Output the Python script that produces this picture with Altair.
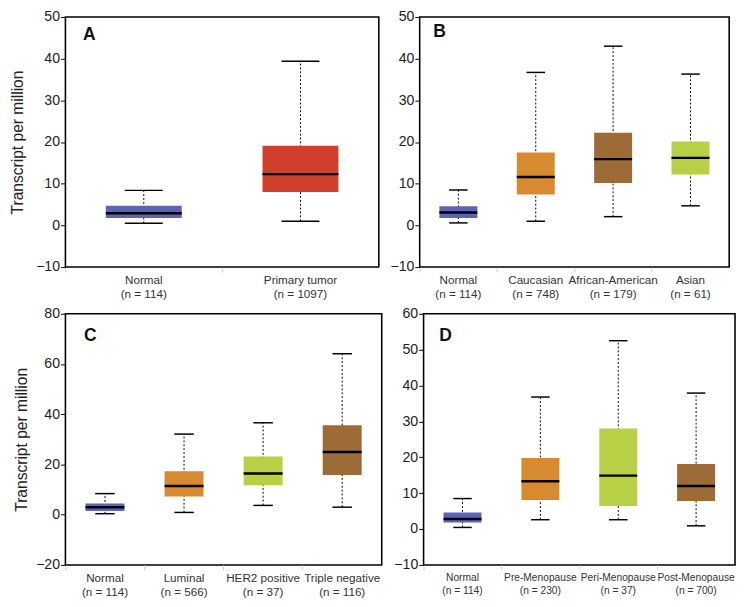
import altair as alt
import pandas as pd

# ---------------- data ----------------
a_cats = ["Normal", "Primary tumor"]
a_n = [114, 1097]
a_lo = [0.5, 1.0]
a_q1 = [1.8, 8.0]
a_med = [2.9, 12.3]
a_q3 = [4.7, 19.1]
a_hi = [8.4, 39.4]
a_colors = ["#5b65b6", "#d03e2c"]

b_cats = ["Normal", "Caucasian", "African-American", "Asian"]
b_n = [114, 748, 179, 61]
b_lo = [0.6, 1.0, 2.1, 4.7]
b_q1 = [1.8, 7.4, 10.2, 12.2]
b_med = [3.1, 11.6, 15.9, 16.2]
b_q3 = [4.6, 17.5, 22.2, 20.1]
b_hi = [8.5, 36.7, 43.0, 36.3]
b_colors = ["#5b65b6", "#d88a30", "#9c6b38", "#b8d045"]

c_cats = ["Normal", "Luminal", "HER2 positive", "Triple negative"]
c_n = [114, 566, 37, 116]
c_lo = [0.4, 0.9, 3.7, 3.0]
c_q1 = [1.5, 7.2, 11.7, 15.8]
c_med = [3.0, 11.4, 16.4, 25.0]
c_q3 = [4.5, 17.3, 23.2, 35.6]
c_hi = [8.4, 32.1, 36.6, 64.1]
c_colors = ["#5b65b6", "#d88a30", "#b8d045", "#9c6b38"]

d_cats = ["Normal", "Pre-Menopause", "Peri-Menopause", "Post-Menopause"]
d_n = [114, 230, 37, 700]
d_lo = [0.45, 2.6, 2.6, 0.9]
d_q1 = [1.8, 8.1, 6.4, 7.8]
d_med = [2.8, 13.3, 14.9, 12.0]
d_q3 = [4.6, 19.8, 28.0, 18.1]
d_hi = [8.5, 36.8, 52.5, 37.9]
d_colors = ["#5b65b6", "#d88a30", "#b8d045", "#9c6b38"]

FONT = "Liberation Sans"


def panel(letter, cats, n, lo, q1, med, q3, hi, colors, domain, tick_vals,
          width, height, box_w, cap_w, label_size, line_h, title, title_pad,
          lx, ly):
    labels = [f"{c}|(n = {k})" for c, k in zip(cats, n)]
    df = pd.DataFrame(dict(cat=labels, lo=lo, q1=q1, med=med, q3=q3, hi=hi,
                           color=colors))
    xenc = alt.X(
        "cat:N", sort=labels,
        scale=alt.Scale(paddingInner=0, paddingOuter=0),
        axis=alt.Axis(title=None, labelAngle=0,
                      labelExpr="split(datum.label, '|')",
                      labelFont=FONT, labelFontSize=label_size,
                      labelColor="#333333", labelLineHeight=line_h,
                      domain=False, ticks=True, tickColor="#cccccc",
                      tickSize=5, bandPosition=0, labelPadding=3),
    )
    yscale = alt.Scale(domain=domain, nice=False, zero=False)

    def yenc(field):
        return alt.Y(field, scale=yscale,
                     axis=alt.Axis(values=tick_vals, title=title if title else None,
                                   titleFont=FONT, titleFontSize=16,
                                   titleFontWeight="normal", titleColor="#222222",
                                   titlePadding=title_pad,
                                   labelFont=FONT, labelFontSize=14.5,
                                   labelColor="#222222", labelPadding=1,
                                   domain=False, ticks=True, tickColor="black",
                                   tickSize=5, tickWidth=1, grid=False))

    base = alt.Chart(df)
    whisk = base.mark_rule(color="black", strokeWidth=1, strokeDash=[2, 2]).encode(
        x=xenc, y=yenc("lo:Q"), y2="hi:Q")
    boxes = base.mark_bar(size=box_w, opacity=1).encode(
        x=xenc, y=yenc("q1:Q"), y2="q3:Q",
        color=alt.Color("color:N", scale=None))
    medians = base.mark_tick(color="black", size=box_w, thickness=2.5,
                             opacity=1).encode(x=xenc, y=yenc("med:Q"))
    cap_lo = base.mark_tick(color="black", size=cap_w, thickness=1.5,
                            opacity=1).encode(x=xenc, y=yenc("lo:Q"))
    cap_hi = base.mark_tick(color="black", size=cap_w, thickness=1.5,
                            opacity=1).encode(x=xenc, y=yenc("hi:Q"))
    txt = alt.Chart(pd.DataFrame({"t": [letter]})).mark_text(
        font=FONT, fontSize=18, fontWeight="bold", align="left",
        baseline="alphabetic", color="#111111").encode(
        text="t:N", x=alt.value(lx), y=alt.value(ly))
    return alt.layer(whisk, boxes, medians, cap_lo, cap_hi, txt).properties(
        width=width, height=height)


pA = panel("A", a_cats, a_n, a_lo, a_q1, a_med, a_q3, a_hi, a_colors,
           [-10, 50], [-10, 0, 10, 20, 30, 40, 50], 322, 257, 78, 39, 12, 14,
           "Transcript per million", 11, 18, 24)
pB = panel("B", b_cats, b_n, b_lo, b_q1, b_med, b_q3, b_hi, b_colors,
           [-10, 50], [-10, 0, 10, 20, 30, 40, 50], 318, 257, 39, 19, 12, 14,
           None, 10, 14, 21)
pC = panel("C", c_cats, c_n, c_lo, c_q1, c_med, c_q3, c_hi, c_colors,
           [-20, 80], [-20, 0, 20, 40, 60, 80], 325, 258, 40, 20, 12, 14,
           "Transcript per million", 6, 19, 28)
pD = panel("D", d_cats, d_n, d_lo, d_q1, d_med, d_q3, d_hi, d_colors,
           [-10, 60], [-10, 0, 10, 20, 30, 40, 50, 60], 320, 258, 39, 19, 10.5, 13,
           None, 10, 16, 28)

chart = alt.vconcat(
    alt.hconcat(pA, pB, spacing=9),
    alt.hconcat(pC, pD, spacing=10),
    spacing=5,
).properties(
    padding={"left": 0, "top": -8, "right": 0, "bottom": 0},
    background="white",
).configure_view(
    stroke="black", strokeWidth=1.6
)

chart.save("out.html", embed_options={"renderer": "svg", "actions": False})
